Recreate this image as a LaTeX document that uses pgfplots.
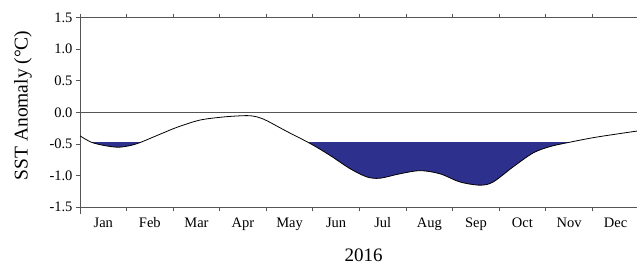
\documentclass[border=0pt]{standalone}
\usepackage{pgfplots}
\pgfplotsset{compat=1.18}
\usepgfplotslibrary{fillbetween}
\usepackage{fontspec}
\setmainfont{Liberation Serif}
\definecolor{navyfill}{RGB}{46,48,142}
\definecolor{axgray}{RGB}{85,85,85}
\begin{document}
\begin{tikzpicture}
\begin{axis}[
  at={(0pt,0pt)}, anchor=south west,
  scale only axis, width=558.9pt, height=189.7pt,
  xmin=0, xmax=12, ymin=-1.5, ymax=1.5,
  axis y line*=left,
  axis line style={axgray, line width=0.9pt},
  y axis line style={shorten <=-7pt, shorten >=-3pt},
  xtick={0,1,...,12},
  xticklabels={Jan,Feb,Mar,Apr,May,Jun,Jul,Aug,Sep,Oct,Nov,Dec},
  x tick label as interval,
  ytick={-1.5,-1,-0.5,0,0.5,1,1.5},
  /pgf/number format/assume math mode=true,
  yticklabel style={/pgf/number format/.cd, fixed, fixed zerofill, precision=1},
  xticklabel style={yshift=-3pt},
  tick align=outside, major tick length=4pt,
  tick style={axgray, line width=0.9pt},
  tick label style={font=\fontsize{14.5}{15}\selectfont},
  xlabel={2016},
  ylabel={SST Anomaly (°C)},
  every axis x label/.style={at={(axis description cs:0.5076,-0.252)}, anchor=center, font=\fontsize{19}{20}\selectfont},
  every axis y label/.style={at={(axis description cs:-0.102,0.537)}, rotate=90, anchor=center, font=\fontsize{19.5}{20}\selectfont},
]
\addplot[name path=curve, draw=none, smooth] coordinates {
(0.00,-0.37) (0.24,-0.47) (0.50,-0.52) (0.82,-0.55) (1.10,-0.52) (1.31,-0.47)
(1.70,-0.35) (2.10,-0.23) (2.58,-0.12) (3.10,-0.07) (3.58,-0.05) (3.80,-0.07)
(4.01,-0.13) (4.44,-0.30) (4.94,-0.49) (5.37,-0.68) (5.80,-0.89) (6.16,-1.02)
(6.44,-1.04) (6.87,-0.97) (7.30,-0.92) (7.73,-0.97) (8.16,-1.10) (8.59,-1.15)
(8.87,-1.10) (9.30,-0.86) (9.73,-0.64) (10.09,-0.54) (10.52,-0.47) (11.09,-0.39)
(12.00,-0.29)};
\addplot[name path=thr, draw=none] coordinates {(0,-0.47) (12,-0.47)};
\addplot[navyfill] fill between[of=curve and thr, soft clip={domain=0.24:1.31}];
\addplot[navyfill] fill between[of=curve and thr, soft clip={domain=4.90:10.52}];
\addplot[axgray, line width=0.9pt] coordinates {(0,0) (12,0)};
\addplot[black, line width=0.8pt, smooth] coordinates {
(0.00,-0.37) (0.24,-0.47) (0.50,-0.52) (0.82,-0.55) (1.10,-0.52) (1.31,-0.47)
(1.70,-0.35) (2.10,-0.23) (2.58,-0.12) (3.10,-0.07) (3.58,-0.05) (3.80,-0.07)
(4.01,-0.13) (4.44,-0.30) (4.94,-0.49) (5.37,-0.68) (5.80,-0.89) (6.16,-1.02)
(6.44,-1.04) (6.87,-0.97) (7.30,-0.92) (7.73,-0.97) (8.16,-1.10) (8.59,-1.15)
(8.87,-1.10) (9.30,-0.86) (9.73,-0.64) (10.09,-0.54) (10.52,-0.47) (11.09,-0.39)
(12.00,-0.29)};
\end{axis}
\pgfresetboundingbox
\path[use as bounding box] (-80pt,-58pt) rectangle (557pt,207.3pt);
\end{tikzpicture}
\end{document}
